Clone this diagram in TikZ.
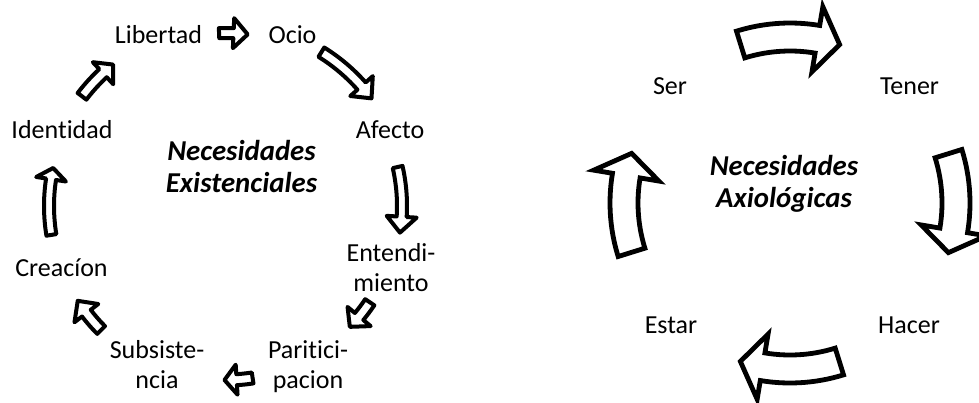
\documentclass[tikz,border=0pt]{standalone}
\usepackage{fontspec}
\setmainfont{Carlito}[Ligatures=NoCommon]
\usetikzlibrary{calc}
% #1 style, #2 centre, #3 radius, #4 half shaft, #5 half head, #6 tail angle, #7 head base angle, #8 tip angle
\newcommand\arcarrow[8]{%
  \draw[#1, shift={(#2)}]
    plot[domain=#6:#7, samples=16] ({(#3+#4)*cos(\x)},{-(#3+#4)*sin(\x)})
    -- ({(#3+#5)*cos(#7)},{-(#3+#5)*sin(#7)})
    -- ({#3*cos(#8)},{-#3*sin(#8)})
    -- ({(#3-#5)*cos(#7)},{-(#3-#5)*sin(#7)})
    -- plot[domain=#7:#6, samples=16] ({(#3-#4)*cos(\x)},{-(#3-#4)*sin(\x)})
    -- cycle;}
\begin{document}
\begin{tikzpicture}[x=0.5pt,y=-0.5pt,
  lbl/.style={anchor=base, inner sep=0pt, font=\fontsize{13}{15}\selectfont, align=center},
  ttl/.style={anchor=base, inner sep=0pt, font=\fontsize{14.4}{16}\selectfont\bfseries\itshape, align=center},
  blkL/.style={draw=black, fill=white, line width=2pt, line join=round},
  blkR/.style={draw=black, fill=white, line width=2.4pt, line join=miter}]
\useasboundingbox (0,0) rectangle (979,402);
\clip (0,0) rectangle (979,402);
\fill[white] (0,0) rectangle (979,402);
% centres
\coordinate (cL) at (226,206);
\coordinate (cR) at (790,203);
% left cycle labels (multi-line nodes: base = last line)
\node[lbl] (lib) at (158.5,43) {Libertad};
\node[lbl] (ocio) at (292.5,43) {Ocio};
\node[lbl] (afe) at (390,138) {Afecto};
\node[lbl] (ent) at (391,291) {Entendi-\\miento};
\node[lbl] (par) at (308,388) {Paritici-\\pacion};
\node[lbl] (sub) at (157,388) {Subsiste-\\ncia};
\node[lbl] (cre) at (61.5,276) {Creacíon};
\node[lbl] (ide) at (62,138) {Identidad};
\node[ttl] (tl) at (241.5,192) {Necesidades\\Existenciales};
% left cycle arrows
\arcarrow{blkL}{cL}{173}{5}{15}{92.3}{87.5}{82.8}
\arcarrow{blkL}{cL}{181}{5.5}{15}{58.2}{41.5}{36.5}
\arcarrow{blkL}{cL}{176}{5}{15}{12.8}{-3.5}{-8.7}
\arcarrow{blkL}{cL}{173}{5.5}{15}{-33.8}{-39.7}{-44.3}
\arcarrow{blkL}{cL}{174}{5.5}{15}{-81.2}{-86.5}{-90.5}
\arcarrow{blkL}{cL}{176}{5.5}{15}{-135.2}{-142.5}{-147.4}
\arcarrow{blkL}{cL}{177}{5}{15}{189.4}{171.3}{167.6}
\arcarrow{blkL}{cL}{181}{5.5}{15}{142.7}{132.8}{128.6}
% right cycle labels
\node[lbl] (ser) at (670,94) {Ser};
\node[lbl] (ten) at (909.5,94) {Tener};
\node[lbl] (hac) at (909,333) {Hacer};
\node[lbl] (est) at (671,333) {Estar};
\node[ttl] (tr) at (784,207) {Necesidades\\Axiológicas};
% right cycle arrows
\arcarrow{blkR}{cR}{166}{14}{33}{107.3}{80.5}{72.6}
\arcarrow{blkR}{cR}{166}{14}{33}{17.3}{-9.5}{-17.4}
\arcarrow{blkR}{cR}{166}{14}{33}{-72.7}{-99.5}{-107.4}
\arcarrow{blkR}{cR}{166}{14}{33}{197.3}{170.5}{162.6}
\end{tikzpicture}
\end{document}
